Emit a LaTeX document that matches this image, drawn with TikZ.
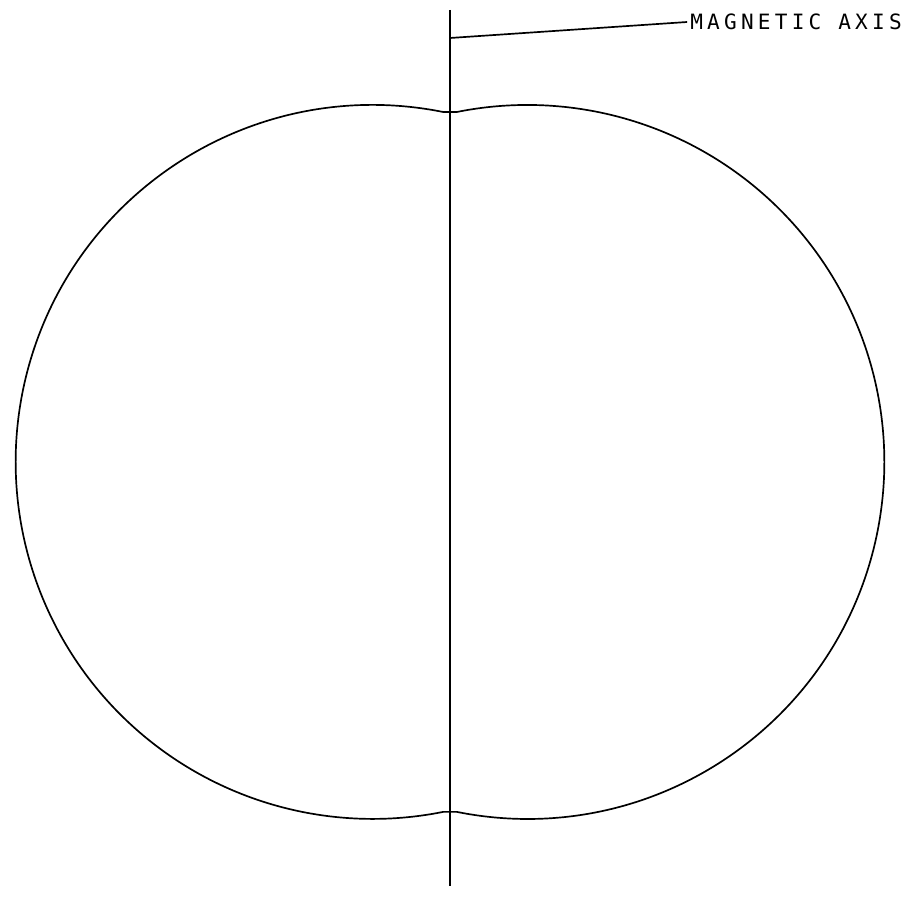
\documentclass[tikz,border=0pt]{standalone}
\usepackage{fontspec}
\newfontfamily\plotfont[LetterSpace=20]{DejaVu Sans Mono}
\usetikzlibrary{positioning}
\tikzset{
  lobe/.style={draw=black, line width=1.2pt},
  axisline/.style={draw=black, line width=1.2pt},
  leader/.style={draw=black, line width=1.2pt},
  axlabel/.style={inner sep=0pt, anchor=west, font=\plotfont\fontsize{15}{17}\selectfont},
}
\begin{document}
\begin{tikzpicture}[x=0.025cm, y=0.025cm]
    \useasboundingbox (0,0) rectangle (906,917);
    % axis and its label
    \coordinate (axtop) at (450,907);
    \coordinate (axbot) at (450,31);
    \coordinate (axpin) at (450,879);
    \node[axlabel] (lbl) at (690,895) {MAGNETIC AXIS};
    \draw[axisline] (axtop) -- (axbot);
    \draw[leader] (axpin) -- ([xshift=-2pt]lbl.west);
    % two overlapping lobes, flat where they meet
    \coordinate (topl) at (443.2,805);
    \coordinate (topr) at (456.8,805);
    \draw[lobe] (topl) arc[start angle=78.6, end angle=281.4, radius=357]
      -- ++(13.6,0)
      arc[start angle=258.6, end angle=461.4, radius=357] -- cycle;
\end{tikzpicture}
\end{document}
